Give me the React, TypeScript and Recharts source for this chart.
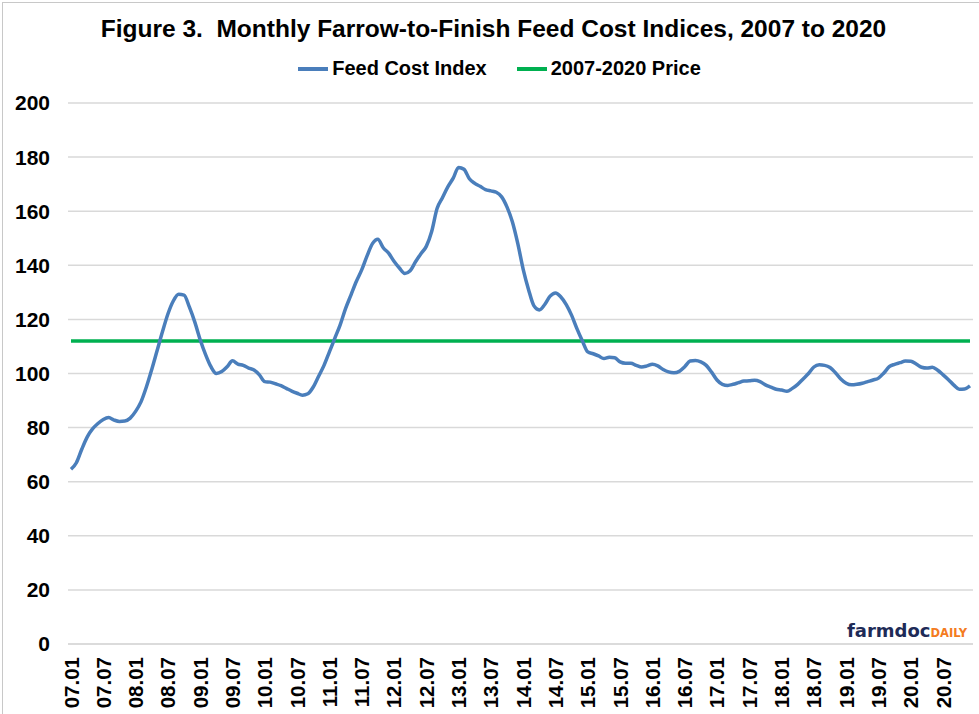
import { LineChart, Line, XAxis, YAxis, CartesianGrid } from "recharts"

// month labels 07.01 ... 20.12
const years = ["07", "08", "09", "10", "11", "12", "13", "14", "15", "16", "17", "18", "19", "20"]
const monthNums = ["01", "02", "03", "04", "05", "06", "07", "08", "09", "10", "11", "12"]
const months: string[] = []
years.forEach((y) => monthNums.forEach((m) => months.push(`${y}.${m}`)))

// feed cost index (one row per year)
const feedCost = [
  64.6, 67, 72, 76.5, 79.5, 81.5, 83, 83.7, 82.8, 82.3, 82.4, 83.5,
  86, 89.5, 95, 101.5, 108.5, 115.5, 122, 126.8, 129.3, 129, 124.5, 119,
  112.5, 107, 102.5, 100, 100.7, 102.5, 104.7, 103.5, 103, 102, 101.3, 99.5,
  97, 96.8, 96.2, 95.5, 94.5, 93.5, 92.7, 92, 92.5, 95, 99, 103,
  108, 113, 118, 124, 129, 134, 138.3, 143.5, 148, 149.6, 146.5, 144.5,
  141.5, 139, 137, 138, 141.3, 144.3, 147, 152.5, 161, 165, 169, 172.2,
  176.2, 175.5, 172, 170.3, 169.2, 168, 167.5, 167, 165.3, 161.5, 156, 148,
  138.5, 131, 125, 123.5, 125.5, 128.6, 129.8, 128.3, 125.5, 121.5, 116.5, 112,
  108, 107.3, 106.5, 105.5, 106, 105.8, 104.3, 103.8, 103.8, 103, 102.4, 102.8,
  103.4, 102.8, 101.5, 100.6, 100.3, 100.8, 102.5, 104.6, 104.8, 104.3, 103, 100.5,
  97.6, 96, 95.6, 96, 96.6, 97.2, 97.3, 97.5, 97, 95.8, 95, 94.2,
  93.9, 93.4, 94.5, 96, 98, 100, 102.4, 103.2, 103, 102.2, 100.3, 98,
  96.4, 95.8, 96, 96.4, 97, 97.6, 98.3, 100.2, 102.5, 103.4, 104, 104.6,
  104.5, 103.5, 102.3, 102, 102.3, 101.2, 99.5, 97.7, 95.7, 94.2, 94.3, 95.4,
]
// the 2007-2020 average level
const avgPrice = 112
const yTicks = [0, 20, 40, 60, 80, 100, 120, 140, 160, 180, 200]

const data = months.map((m, i) => ({ month: m, index: feedCost[i], avg: avgPrice }))

const FONT = "'Liberation Sans', Arial, sans-serif"

const XTick = (props: any) => {
  const { x, y, payload } = props
  const ty = y + 5
  return (
    <text
      x={x}
      y={ty}
      transform={`rotate(-90, ${x}, ${ty})`}
      textAnchor="end"
      dominantBaseline="central"
      fontFamily={FONT}
      fontWeight="bold"
      fontSize={20.5}
      fill="#000"
    >
      {payload.value}
    </text>
  )
}

export default function App() {
  return (
    <div
      style={{
        position: "absolute",
        top: 0,
        left: 0,
        width: 979,
        height: 714,
        background: "#fff",
        overflow: "hidden",
      }}
    >
      <div
        style={{
          position: "absolute",
          left: 2,
          top: 2,
          width: 990,
          height: 730,
          borderLeft: "1px solid #c8c8c8",
          borderTop: "1px solid #c8c8c8",
        }}
      />
      <div
        style={{
          position: "absolute",
          top: 15,
          width: 979,
          left: 4,
          textAlign: "center",
          fontFamily: FONT,
          fontWeight: "bold",
          fontSize: 24.5,
          color: "#000",
        }}
      >
        Figure 3.&nbsp; Monthly Farrow-to-Finish Feed Cost Indices, 2007 to 2020
      </div>
      <div
        style={{
          position: "absolute",
          top: 57,
          left: 0,
          width: 999,
          display: "flex",
          justifyContent: "center",
          gap: 30,
          fontFamily: FONT,
          fontWeight: "bold",
          fontSize: 20,
          color: "#000",
        }}
      >
        <span style={{ display: "flex", alignItems: "center" }}>
          <span style={{ width: 30, height: 4, background: "#4a7ebb", marginRight: 4 }} />
          Feed Cost Index
        </span>
        <span style={{ display: "flex", alignItems: "center" }}>
          <span style={{ width: 30, height: 4, background: "#00b050", marginRight: 4 }} />
          2007-2020 Price
        </span>
      </div>
      <LineChart width={979} height={714} data={data} margin={{ top: 103, right: 6, bottom: 0, left: 0 }}>
        <CartesianGrid vertical={false} stroke="#d9d9d9" strokeWidth={1.5} />
        <XAxis
          dataKey="month"
          interval={5}
          tick={<XTick />}
          tickLine={false}
          axisLine={{ stroke: "#d9d9d9", strokeWidth: 1.5 }}
          height={70}
          padding={{ left: 3, right: 3 }}
        />
        <YAxis
          domain={[0, 200]}
          ticks={yTicks}
          width={68}
          tickLine={false}
          axisLine={false}
          tickMargin={12}
          tick={{ fontFamily: FONT, fontWeight: "bold", fontSize: 21, fill: "#000" }}
        />
        <Line dataKey="avg" stroke="#00b050" strokeWidth={3.5} dot={false} isAnimationActive={false} />
        <Line
          dataKey="index"
          type="monotone"
          stroke="#4a7ebb"
          strokeWidth={3.5}
          dot={false}
          isAnimationActive={false}
        />
      </LineChart>
      <div
        style={{
          position: "absolute",
          left: 847,
          top: 620,
          fontFamily: "'DejaVu Sans', Verdana, sans-serif",
          fontWeight: "bold",
          whiteSpace: "nowrap",
        }}
      >
        <span style={{ color: "#1e2b57", fontSize: 18 }}>farmdoc</span>
        <span style={{ color: "#f47b20", fontSize: 11.5 }}>DAILY</span>
      </div>
    </div>
  )
}
